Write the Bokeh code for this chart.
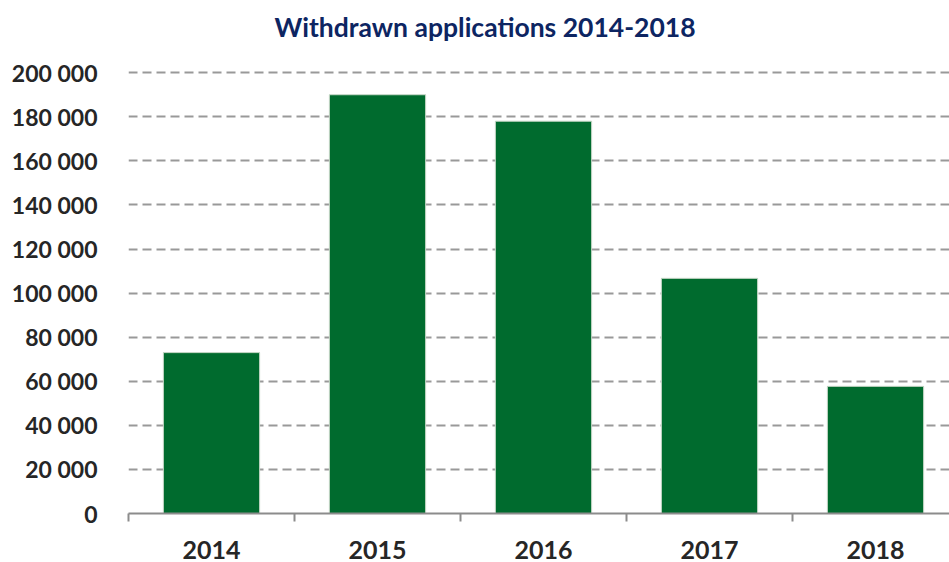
from bokeh.plotting import figure
from bokeh.models import Range1d, FixedTicker, ColumnDataSource, Title
from bokeh.embed import file_html
from bokeh.resources import INLINE

years = ["2014", "2015", "2016", "2017", "2018"]
withdrawn = [73000, 190000, 178000, 106700, 57700]
y_ticks = [0, 20000, 40000, 60000, 80000, 100000, 120000, 140000, 160000, 180000, 200000]
title = "Withdrawn applications 2014-2018"

xs = list(range(len(years)))
src = ColumnDataSource(dict(x=xs, top=withdrawn, year=years))

p = figure(width=949, height=562, output_backend="svg", toolbar_location=None,
           x_range=Range1d(-0.5, -0.5 + 821 / 166), y_range=Range1d(0, 201000),
           min_border_left=128, min_border_right=0, min_border_top=70, min_border_bottom=49)

p.title.text = title
p.title.align = "left"
p.title.vertical_align = "top"
p.title.text_font = "Lato"
p.title.text_font_style = "bold"
p.title.text_font_size = "26.5px"
p.title.text_color = "#0d2562"
p.title.offset = 146
p.title.standoff = 18

# thin blank spacer between the title and the plot frame
p.add_layout(Title(text=" ", text_font_size="1px", standoff=14, text_color="white"), "above")

p.vbar(x="x", top="top", width=0.58, source=src, fill_color="#006b2e",
       line_color="#c8d8c8", line_width=1)

p.outline_line_color = None
p.background_fill_color = "white"
p.border_fill_color = "white"

p.xgrid.grid_line_color = None
p.ygrid.grid_line_color = "#999999"
p.ygrid.grid_line_width = 2
p.ygrid.grid_line_dash = "9 5"
p.ygrid.ticker = FixedTicker(ticks=y_ticks)

xa = p.xaxis[0]
xa.ticker = FixedTicker(ticks=xs, minor_ticks=[i - 0.5 for i in range(len(years) + 1)])
xa.major_label_overrides = {i: y for i, y in zip(xs, years)}
xa.axis_line_color = "#8c8c8c"
xa.axis_line_width = 2
xa.major_tick_line_color = None
xa.major_tick_out = 0
xa.major_tick_in = 0
xa.minor_tick_line_color = "#8c8c8c"
xa.minor_tick_line_width = 2
xa.minor_tick_out = 8
xa.minor_tick_in = 0
xa.major_label_standoff = 19
xa.major_label_text_font = "Lato"
xa.major_label_text_font_style = "bold"
xa.major_label_text_font_size = "25px"
xa.major_label_text_color = "#262626"

ya = p.yaxis[0]
ya.ticker = FixedTicker(ticks=y_ticks)
ya.major_label_overrides = {v: f"{v:,}".replace(",", " ") for v in y_ticks}
ya.axis_line_color = None
ya.major_tick_line_color = None
ya.minor_tick_line_color = None
ya.major_tick_out = 0
ya.major_label_standoff = 31
ya.major_label_text_font = "Lato"
ya.major_label_text_font_style = "bold"
ya.major_label_text_font_size = "23px"
ya.major_label_text_color = "#262626"

open("out.html", "w").write(file_html(p, INLINE))
